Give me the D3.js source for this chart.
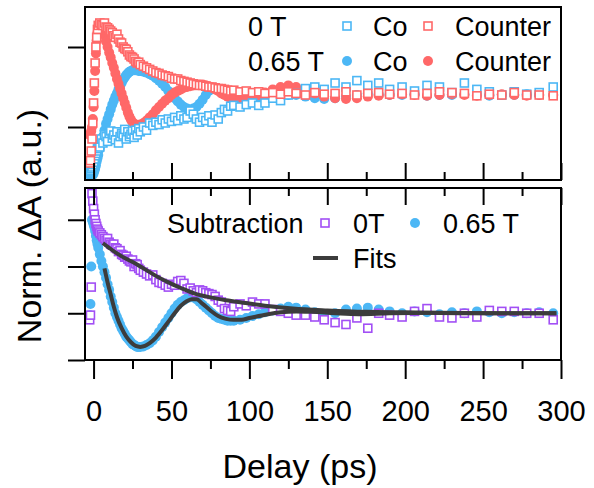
<!DOCTYPE html>
<html>
<head>
<meta charset="utf-8">
<script src="https://d3js.org/d3.v7.min.js"></script>
<style>
	body { margin: 0; background: #fff; }
	svg { display: block; }
	text { font-family: "Liberation Sans", Arial, sans-serif; fill: #000; }
</style>
</head>
<body>
<div id="chart"></div>
<script>
// Pump-probe delays (ps), shared by all scatter series
var delays = [-2.5,-2,-1.5,-1,-0.5,0,0.5,1,1.5,2,2.5,3,
	4,5,6,7,8,9,10,11,12,13,14,15,16,17,18,19,20,21,22,23,24,25,26,27,28,29,30,
	32,34,36,38,40,42,44,46,48,50,52,54,56,58,60,62,64,66,68,70,72,74,76,78,80,82,84,86,88,90,
	94,98,102,106,110,115,120,125,130,136,142,148,
	155,162,169,176,183,190,198,206,214,222,230,238,246,254,262,270,278,286,295];

// Top panel: normalized transients
var coT0 = [-0.55,-0.54,-0.52,-0.5,-0.47,-0.44,-0.4,-0.36,-0.33,-0.3,-0.27,-0.22,
	-0.25,-0.15,-0.2,-0.1,-0.12,-0.18,-0.08,-0.05,-0.14,-0.1,-0.16,-0.06,-0.2,-0.12,-0.08,-0.1,-0.03,
	-0.15,-0.06,-0.12,-0.09,-0.05,-0.13,-0.04,-0.1,-0.02,-0.06,
	0.0,-0.04,0.05,0.02,0.06,0.03,0.09,0.05,0.1,0.07,0.12,0.08,0.14,0.1,0.12,0.2,0.16,0.1,0.06,0.12,
	0.08,0.14,0.06,0.15,0.1,0.18,0.22,0.2,0.26,0.27,
	0.25,0.28,0.3,0.27,0.3,0.36,0.33,0.4,0.42,0.48,0.5,0.47,
	0.55,0.5,0.58,0.52,0.55,0.47,0.5,0.45,0.52,0.5,0.43,0.55,0.47,0.44,0.4,0.44,0.41,0.43,0.5];
var counterT0 = [-0.45,-0.42,-0.3,-0.15,0.05,0.3,0.55,0.8,1.0,1.12,1.22,1.27,
	1.3,1.28,1.27,1.3,1.25,1.24,1.22,1.2,1.18,1.14,1.12,1.16,1.1,1.06,1.05,1.0,0.98,
	0.97,0.94,0.9,0.88,0.87,0.85,0.82,0.8,0.81,0.78,
	0.76,0.74,0.72,0.7,0.68,0.67,0.65,0.64,0.63,0.61,0.6,0.6,0.58,0.57,0.56,0.55,0.54,0.53,0.52,0.52,
	0.51,0.5,0.5,0.49,0.48,0.48,0.47,0.46,0.45,0.46,
	0.44,0.45,0.43,0.44,0.42,0.43,0.41,0.44,0.42,0.4,0.43,0.41,
	0.42,0.44,0.4,0.42,0.43,0.41,0.42,0.4,0.42,0.44,0.43,0.42,0.39,0.41,0.4,0.43,0.4,0.4,0.39];
var coT65 = [-0.6,-0.6,-0.6,-0.6,-0.6,-0.58,-0.55,-0.52,-0.48,-0.43,-0.39,-0.35,
	-0.27,-0.2,-0.12,-0.04,0.04,0.1,0.16,0.22,0.28,0.33,0.38,0.42,0.47,0.51,0.55,0.59,0.62,
	0.65,0.67,0.69,0.7,0.71,0.71,0.71,0.71,0.7,0.7,
	0.69,0.68,0.66,0.64,0.61,0.58,0.54,0.5,0.45,0.4,0.36,0.32,0.28,0.25,0.23,0.22,0.23,0.25,0.29,0.34,
	0.4,0.45,0.48,0.49,0.48,0.47,0.46,0.45,0.43,0.42,
	0.4,0.39,0.38,0.37,0.37,0.38,0.39,0.4,0.4,0.38,0.36,0.35,
	0.36,0.38,0.4,0.42,0.41,0.4,0.4,0.41,0.39,0.4,0.4,0.41,0.4,0.39,0.4,0.4,0.41,0.4,0.4];
var counterT65 = [-0.1,-0.08,-0.05,0.0,0.1,0.25,0.45,0.7,0.92,1.08,1.18,1.24,
	1.27,1.27,1.22,1.15,1.07,1.0,0.93,0.87,0.8,0.74,0.67,0.6,0.54,0.48,0.42,0.36,0.3,
	0.24,0.18,0.13,0.09,0.06,0.04,0.03,0.02,0.02,0.03,
	0.05,0.08,0.12,0.16,0.21,0.25,0.29,0.33,0.36,0.4,0.43,0.45,0.47,0.49,0.5,0.51,0.52,0.53,0.53,0.53,
	0.52,0.51,0.49,0.47,0.45,0.42,0.4,0.38,0.36,0.35,
	0.35,0.36,0.38,0.4,0.43,0.47,0.5,0.52,0.5,0.46,0.42,0.38,
	0.36,0.35,0.36,0.38,0.39,0.4,0.41,0.4,0.39,0.4,0.41,0.4,0.39,0.4,0.41,0.4,0.39,0.4,0.4];

// Bottom panel: subtraction (Co - Counter)
var subT0 = [-0.07,-0.02,0.28,1.28,1.2,1.12,1.06,1.0,0.96,0.93,0.9,0.88,
	0.86,0.84,0.82,0.8,0.78,0.8,0.76,0.74,0.73,0.74,0.7,0.69,0.66,0.67,0.63,0.62,0.6,
	0.61,0.58,0.56,0.55,0.57,0.5,0.53,0.52,0.48,0.46,
	0.44,0.42,0.4,0.41,0.36,0.33,0.32,0.3,0.28,0.31,0.3,0.34,0.35,0.32,0.26,0.27,0.24,0.22,0.25,0.24,
	0.22,0.21,0.2,0.18,0.14,0.12,0.05,0.03,0.02,0.07,
	0.1,0.08,0.12,0.1,0.1,0.04,0.02,0.0,-0.02,-0.02,-0.04,-0.07,
	-0.1,-0.12,-0.05,-0.16,0.0,-0.02,-0.04,0.02,0.05,-0.04,-0.05,0.0,-0.04,0.03,0.02,0.02,0.0,0.0,-0.07];
var subT65 = [-0.02,0.1,0.5,1.0,0.98,0.95,0.92,0.88,0.83,0.78,0.74,0.7,
	0.63,0.56,0.5,0.44,0.38,0.31,0.25,0.18,0.12,0.06,0.0,-0.04,-0.08,-0.12,-0.16,-0.19,-0.22,
	-0.25,-0.27,-0.29,-0.31,-0.33,-0.34,-0.35,-0.36,-0.36,-0.36,
	-0.355,-0.34,-0.32,-0.29,-0.25,-0.2,-0.15,-0.1,-0.05,0.0,0.05,0.09,0.12,0.14,0.16,0.17,0.17,0.15,0.12,0.09,
	0.06,0.03,0.0,-0.03,-0.05,-0.06,-0.07,-0.08,-0.08,-0.08,
	-0.07,-0.05,-0.03,-0.01,0.01,0.03,0.05,0.07,0.06,0.04,0.01,-0.01,
	0.0,0.04,0.05,0.06,0.04,0.02,0.0,0.02,0.01,-0.01,0.01,0.0,0.02,0.01,0.0,0.01,0.0,0.01,0.0];

// Fit curves: [delay, value]
var fitT0 = [[6,0.75],[10,0.7],[15,0.64],[20,0.59],[26,0.54],[32,0.48],[40,0.4],[48,0.33],[56,0.27],
	[65,0.21],[75,0.17],[85,0.14],[95,0.115],[110,0.08],[128,0.05],[150,0.03],[175,0.015],[200,0.01],
	[250,0.0],[297,0.0]];
var fitT65 = [[7,0.48],[9,0.33],[11,0.2],[13,0.07],[15,-0.04],[18,-0.16],[21,-0.25],[24,-0.31],[27,-0.35],
	[30,-0.36],[33,-0.35],[36,-0.32],[40,-0.26],[44,-0.18],[48,-0.09],[52,0.0],[56,0.08],[60,0.13],
	[63,0.15],[66,0.15],[70,0.1],[75,0.03],[80,-0.03],[85,-0.06],[90,-0.07],[95,-0.07],[100,-0.05],
	[106,-0.03],[112,-0.01],[120,0.01],[130,0.02],[140,0.015],[155,0.0],[170,-0.01],[190,0.0],
	[220,0.005],[260,0.0],[297,0.0]];

// Axis ticks
var xMajorTicks = [0,50,100,150,200,250,300];
var xMinorTicks = [25,75,125,175,225,275];
var yTopTicks = [0,1];
var yBotTicks = [-0.5,0,0.5,1];

var RED = "#ff6868", BLUE = "#4cb7f5", PURPLE = "#a24ff5", FIT = "#3c3c3c";
var R = 5, S = 8;

var W = 594, H = 488;
var svg = d3.select("#chart").append("svg").attr("width", W).attr("height", H);

var x = d3.scaleLinear().domain([-5.5, 300]).range([85, 561]);
var yTop = d3.scaleLinear().domain([-0.6625, 1.5]).range([180, 7]);
var yBot = d3.scaleLinear().domain([-0.5, 1.34]).range([360, 188]);

function clipFor(id, y0, y1) {
	svg.append("clipPath").attr("id", id).append("rect")
		.attr("x", 85).attr("y", y0).attr("width", 476).attr("height", y1 - y0);
	return svg.append("g").attr("clip-path", "url(#" + id + ")");
}

function dots(g, ys, yScale, color) {
	g.selectAll(null).data(delays).enter().append("circle")
		.attr("cx", function (d) { return x(d); })
		.attr("cy", function (d, i) { return yScale(ys[i]); })
		.attr("r", R).attr("fill", color);
}

function squares(g, ys, yScale, color) {
	g.selectAll(null).data(delays).enter().append("rect")
		.attr("x", function (d) { return x(d) - S / 2; })
		.attr("y", function (d, i) { return yScale(ys[i]) - S / 2; })
		.attr("width", S).attr("height", S)
		.attr("fill", "#fff").attr("stroke", color).attr("stroke-width", 1.6);
}

// top panel
var gTop = clipFor("clipTop", 7, 180);
dots(gTop, coT65, yTop, BLUE);
dots(gTop, counterT65, yTop, RED);
squares(gTop, coT0, yTop, BLUE);
squares(gTop, counterT0, yTop, RED);

// bottom panel
var gBot = clipFor("clipBot", 188, 360);
dots(gBot, subT65, yBot, BLUE);
squares(gBot, subT0, yBot, PURPLE);

var line = d3.line()
	.x(function (d) { return x(d[0]); })
	.y(function (d) { return yBot(d[1]); })
	.curve(d3.curveMonotoneX);
[fitT0, fitT65].forEach(function (f) {
	gBot.append("path").attr("d", line(f))
		.attr("fill", "none").attr("stroke", FIT).attr("stroke-width", 4);
});

// axes
function styleAxis(g) {
	g.select(".domain").remove();
	g.selectAll(".tick line").attr("stroke", "#000").attr("stroke-width", 2);
	g.selectAll(".tick text").style("font-size", "29px").attr("fill", "#000");
}

svg.append("g").attr("transform", "translate(85,0)")
	.call(d3.axisLeft(yTop).tickValues(yTopTicks).tickSize(17).tickFormat("")).call(styleAxis);
svg.append("g").attr("transform", "translate(85,0)")
	.call(d3.axisLeft(yBot).tickValues(yBotTicks).tickSize(17).tickFormat("")).call(styleAxis);

svg.append("g").attr("transform", "translate(0,180)")
	.call(d3.axisTop(x).tickValues(xMajorTicks).tickSize(17).tickFormat("")).call(styleAxis);
svg.append("g").attr("transform", "translate(0,180)")
	.call(d3.axisTop(x).tickValues(xMinorTicks).tickSize(8).tickFormat("")).call(styleAxis);
svg.append("g").attr("transform", "translate(0,188)")
	.call(d3.axisBottom(x).tickValues(xMajorTicks).tickSize(17).tickFormat("")).call(styleAxis);
svg.append("g").attr("transform", "translate(0,188)")
	.call(d3.axisBottom(x).tickValues(xMinorTicks).tickSize(8).tickFormat("")).call(styleAxis);
svg.append("g").attr("transform", "translate(0,360)")
	.call(d3.axisBottom(x).tickValues(xMajorTicks).tickSize(19).tickPadding(21).tickFormat(d3.format("d"))).call(styleAxis);
svg.append("g").attr("transform", "translate(0,360)")
	.call(d3.axisBottom(x).tickValues(xMinorTicks).tickSize(9).tickFormat("")).call(styleAxis);

// frames
[[7, 180], [188, 360]].forEach(function (p) {
	svg.append("rect").attr("x", 85).attr("y", p[0]).attr("width", 476).attr("height", p[1] - p[0])
		.attr("fill", "none").attr("stroke", "#000").attr("stroke-width", 2);
});

// axis titles
svg.append("text").attr("x", 300).attr("y", 478).attr("text-anchor", "middle")
	.style("font-size", "34px").text("Delay (ps)");
svg.append("text").attr("transform", "translate(41,226) rotate(-90)").attr("text-anchor", "middle")
	.style("font-size", "34px").text("Norm. \u0394A (a.u.)");

// legends
function legText(tx, ty, s) {
	svg.append("text").attr("x", tx).attr("y", ty).attr("dy", "0.36em")
		.style("font-size", "27px").text(s);
}
function legSquare(cx, cy, color) {
	svg.append("rect").attr("x", cx - S / 2).attr("y", cy - S / 2).attr("width", S).attr("height", S)
		.attr("fill", "#fff").attr("stroke", color).attr("stroke-width", 1.6);
}
function legDot(cx, cy, color) {
	svg.append("circle").attr("cx", cx).attr("cy", cy).attr("r", R).attr("fill", color);
}

legText(248, 26, "0 T");
legSquare(347, 26, BLUE); legText(373, 26, "Co");
legSquare(428, 26, RED); legText(455, 26, "Counter");
legText(248, 61, "0.65 T");
legDot(347, 61, BLUE); legText(373, 61, "Co");
legDot(428, 61, RED); legText(455, 61, "Counter");

legText(167, 223, "Subtraction");
legSquare(325, 223, PURPLE); legText(353, 223, "0T");
legDot(415, 223, BLUE); legText(443, 223, "0.65 T");
svg.append("line").attr("x1", 313).attr("x2", 338).attr("y1", 258).attr("y2", 258)
	.attr("stroke", FIT).attr("stroke-width", 4);
legText(353, 258, "Fits");
</script>
</body>
</html>
